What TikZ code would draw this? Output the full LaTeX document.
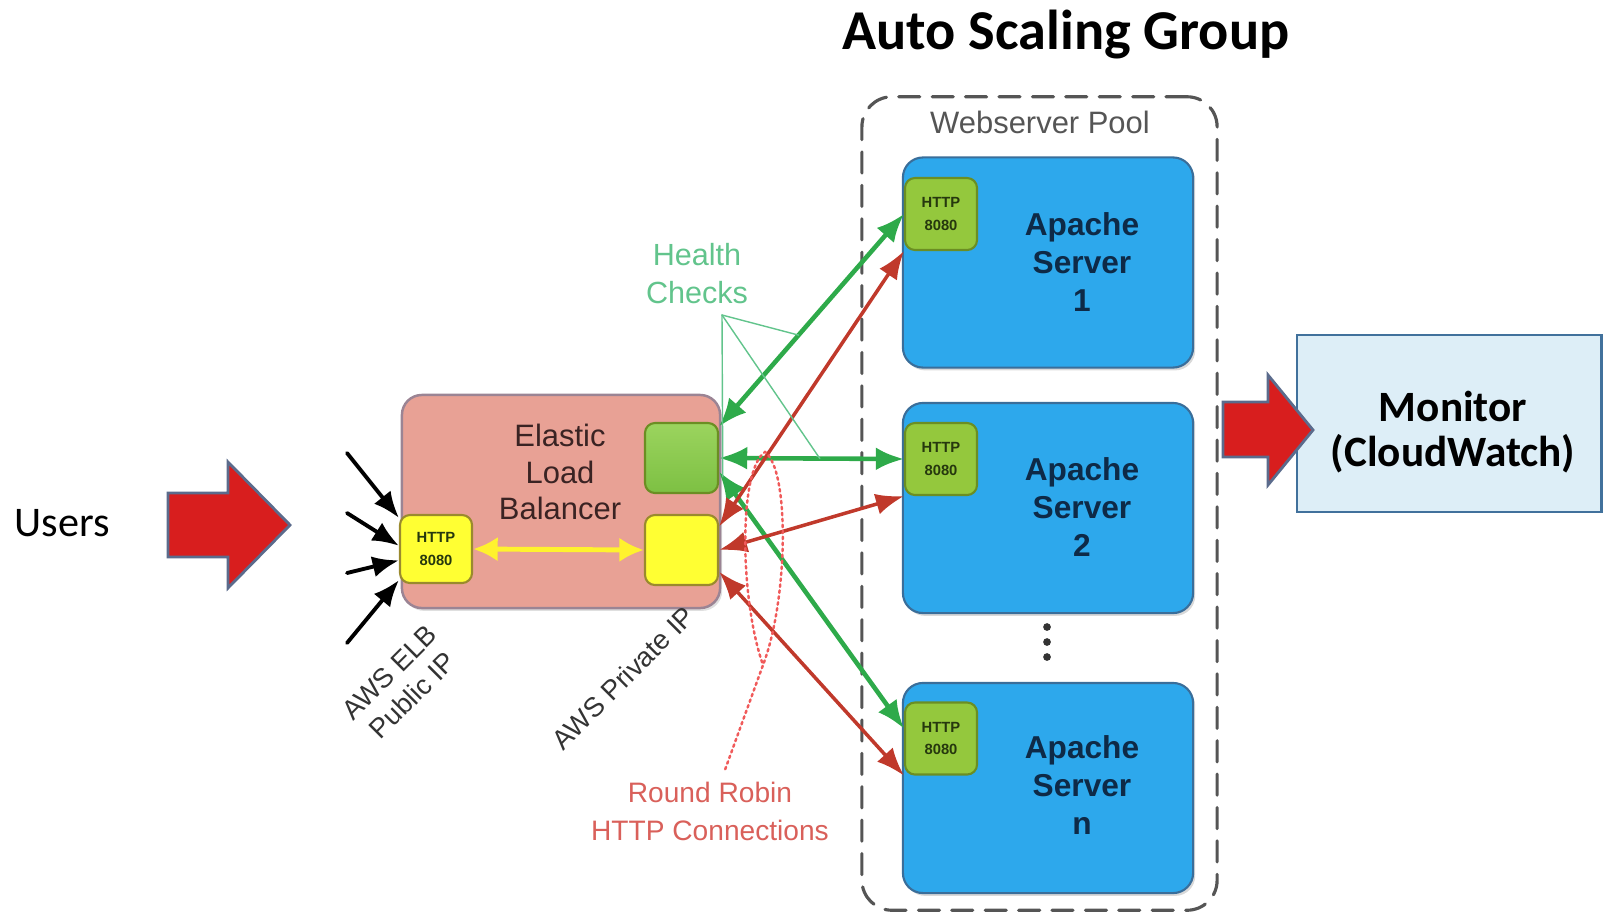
\documentclass[tikz,border=0pt]{standalone}
\usepackage{fontspec}
\setmainfont{Liberation Sans}
\newfontfamily\calibri{Carlito}
\usepackage{tikz}
\usetikzlibrary{arrows.meta, shadows}
\definecolor{srvBlue}{HTML}{2DA8EC}
\definecolor{srvEdge}{HTML}{3A6E9A}
\definecolor{srvText}{HTML}{0E2A47}
\definecolor{httpGreen}{HTML}{94C83D}
\definecolor{httpEdge}{HTML}{6B8E23}
\definecolor{httpText}{HTML}{26380E}
\definecolor{elbFill}{HTML}{E8A195}
\definecolor{elbEdge}{HTML}{9B8494}
\definecolor{elbText}{HTML}{3A2323}
\definecolor{elbGreen}{HTML}{7DC043}
\definecolor{elbGreenLt}{HTML}{9BD45E}
\definecolor{ipYellow}{HTML}{FFFF33}
\definecolor{ipEdge}{HTML}{9A8A2E}
\definecolor{hcGreen}{HTML}{2EAA4A}
\definecolor{hcText}{HTML}{62C48C}
\definecolor{rrRed}{HTML}{C0392B}
\definecolor{rrText}{HTML}{D9605A}
\definecolor{rrDot}{HTML}{F05A5A}
\definecolor{blockRed}{HTML}{D81E1E}
\definecolor{blockEdge}{HTML}{5B6B8C}
\definecolor{monFill}{HTML}{DDEEF7}
\definecolor{monEdge}{HTML}{41719C}
\definecolor{poolGray}{HTML}{555555}

\begin{document}
\begin{tikzpicture}[x=0.01cm, y=-0.01cm, line cap=round,
	box/.style={draw, rounded corners=0.2cm, inner sep=0pt},
	httpbox/.style={box, rounded corners=0.1cm, fill=httpGreen, draw=httpEdge, line width=0.6pt,
		minimum width=0.72cm, minimum height=0.72cm, align=center, font=\bfseries\fontsize{4.2}{6.3}\selectfont, text=httpText},
	server/.style={box, fill=srvBlue, draw=srvEdge, line width=0.6pt, minimum width=2.9cm, minimum height=2.1cm,
		drop shadow={opacity=0.3, shadow xshift=0.6pt, shadow yshift=-0.8pt}},
	srvtext/.style={align=center, font=\bfseries\fontsize{9}{10.8}\selectfont, text=srvText},
	ipbox/.style={box, rounded corners=0.1cm, line width=0.6pt, minimum width=0.73cm, minimum height=0.7cm},
	hcarrow/.style={line width=1.3pt, hcGreen, {Latex[length=8pt,width=6.5pt]}-{Latex[length=8pt,width=6.5pt]}},
	rrarrow/.style={line width=1pt, rrRed, {Latex[length=8pt,width=6pt]}-{Latex[length=8pt,width=6pt]}},
	inarrow/.style={line width=1.1pt, -{Latex[length=7.5pt,width=6pt]}},
	blockarrow/.style={fill=blockRed, draw=blockEdge, line width=0.8pt, line join=miter},
	awslbl/.style={rotate=45, align=center, font=\fontsize{7.8}{9.3}\selectfont, text=black!80},
	]
	\useasboundingbox (0,0) rectangle (1604,915);

	% users on the left
	\node[font=\calibri\fontsize{12}{14}\selectfont] (users) at (62,523) {Users};
	\filldraw[blockarrow] (168,493) -- (228,493) -- (228,462) -- (290,525) -- (228,588) -- (228,557) -- (168,557) -- cycle;

	% load balancer
	\node[box, fill=elbFill, draw=elbEdge, line width=0.7pt, minimum width=3.18cm, minimum height=2.13cm,
		drop shadow={opacity=0.25, shadow xshift=0.6pt, shadow yshift=-0.8pt}] (elb) at (561,501.5) {};
	\node[align=center, text=elbText, font=\fontsize{8.8}{10.5}\selectfont] (elbtxt) at (560,472) {Elastic\\Load\\Balancer};
	\node[ipbox, top color=elbGreenLt, bottom color=elbGreen, draw=httpEdge] (elbg) at (681.5,458) {};
	\node[ipbox, fill=ipYellow, draw=ipEdge] (ylr) at (681.5,550) {};
	\node[ipbox, fill=ipYellow, draw=ipEdge, minimum width=0.72cm, minimum height=0.68cm, align=center,
		font=\bfseries\fontsize{4.2}{6.6}\selectfont, text=httpText] (hl) at (436,549) {HTTP\\8080};
	\draw[line width=1.4pt, ipYellow!90!orange, {Latex[length=7pt,width=7pt]}-{Latex[length=7pt,width=7pt]}] (hl.east) -- (ylr.west);

	\coordinate (in1) at (347,453);
	\coordinate (in2) at (347,513);
	\coordinate (in3) at (347,573);
	\coordinate (in4) at (347,643);
	\foreach \c/\a in {in1/140, in2/175, in3/197, in4/220}
		\draw[inarrow] (\c) -- (hl.\a);

	\node[awslbl] (pubip) at (401,684) {AWS ELB\\Public IP};
	\node[awslbl] (privip) at (623,678) {AWS Private IP};

	% auto scaling group
	\node[font=\calibri\bfseries\fontsize{16}{19}\selectfont] (asg) at (1066,35) {Auto Scaling Group};
	\node[draw=poolGray, line width=0.9pt, dash pattern=on 6pt off 3.5pt, rounded corners=0.3cm,
		minimum width=3.55cm, minimum height=8.13cm] (pool) at (1039.5,503.5) {};
	\node[text=poolGray, font=\fontsize{8.8}{10}\selectfont] (pooltxt) at (1040,122) {Webserver Pool};

	\node[server] (srv1) at (1048,262.5) {};
	\node[srvtext] (srv1txt) at (1082,262) {Apache\\Server\\1};
	\node[httpbox] (http1) at (941,214) {HTTP\\8080};

	\node[server] (srv2) at (1048,508) {};
	\node[srvtext] (srv2txt) at (1082,507) {Apache\\Server\\2};
	\node[httpbox] (http2) at (941,459) {HTTP\\8080};

	\foreach \y in {627,642,657}
		\fill[black!80] (1047,\y) circle (1.1pt);

	\node[server] (srvn) at (1048,788) {};
	\node[srvtext] (srvntxt) at (1082,785) {Apache\\Server\\n};
	\node[httpbox] (httpn) at (941,738.5) {HTTP\\8080};

	% health checks and round robin
	\draw[hcarrow] (elbg.40) -- coordinate[pos=0.43] (hcA) (http1.west);
	\draw[hcarrow] (elbg.east) -- coordinate[pos=0.545] (hcB) (http2.west);
	\draw[hcarrow] (elbg.-20) -- coordinate[pos=0.02] (hcC) (httpn.165);
	\draw[rrarrow] (ylr.32) -- (http1.south west);
	\draw[rrarrow] (ylr.east) -- (http2.south west);
	\draw[rrarrow] (ylr.-30) -- (httpn.south west);

	\node[align=center, text=hcText, font=\fontsize{8.7}{10.8}\selectfont] (hc) at (697,274) {Health\\Checks};
	\coordinate (hcroot) at (722,315);
	\foreach \t in {hcA, hcB, hcC}
		\draw[hcText, line width=0.4pt] (hcroot) -- (\t);

	\node[align=center, text=rrText, font=\fontsize{8}{10.8}\selectfont] (rr) at (710,811) {Round Robin\\HTTP Connections};
	\coordinate (rrknot) at (763,665);
	\draw[rrDot, line width=0.7pt, densely dotted] (rr.70) -- (rrknot)
		.. controls (740,600) and (738,470) .. (765,452)
		.. controls (790,470) and (788,600) .. (rrknot);

	% monitor
	\node[draw=monEdge, fill=monFill, line width=0.8pt, minimum width=3.04cm, minimum height=1.77cm] (mon) at (1449,423.5) {};
	\node[align=center, font=\calibri\bfseries\fontsize{12.3}{13}\selectfont] (montxt) at (1453,432) {Monitor\\(CloudWatch)};
	\filldraw[blockarrow] (1223,402) -- (1268,402) -- (1268,375) -- (1313,430) -- (1268,485) -- (1268,457) -- (1223,457) -- cycle;
\end{tikzpicture}
\end{document}
